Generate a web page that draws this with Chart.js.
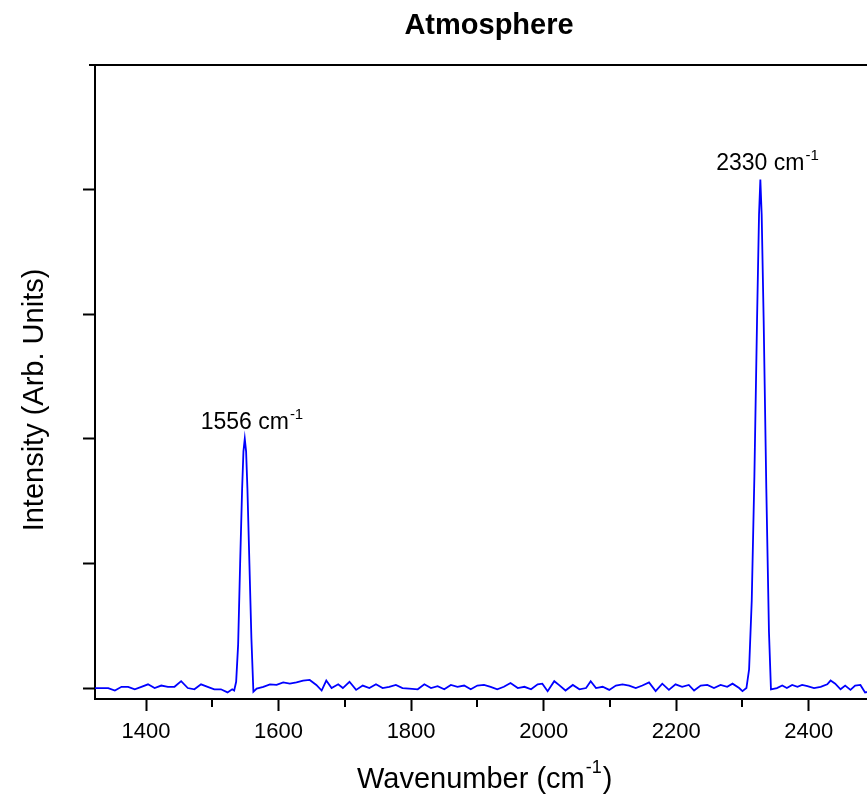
<!DOCTYPE html>
<html>
<head>
<meta charset="utf-8">
<title>Atmosphere</title>
<script src="https://cdn.jsdelivr.net/npm/chart.js@4.4.1/dist/chart.umd.min.js"></script>
<style>
    html, body { margin: 0; padding: 0; background: #fff; overflow: hidden; }
    #wrap { width: 880px; height: 797px; }
</style>
</head>
<body>
<div id="wrap"><canvas id="atmCanvas" width="880" height="797"></canvas></div>
<script>
// spectrum (wavenumber in cm-1, intensity in arb. units)
let wavenumber = [
    1323, 1333, 1343, 1353, 1363, 1373, 1383, 1393, 1403, 1413, 1423, 1433, 1443, 1453, 1463, 1473,
    1483, 1493, 1503, 1513, 1523, 1530, 1533, 1536, 1539, 1542, 1545, 1547, 1549, 1551, 1553, 1556,
    1559, 1562, 1567, 1577, 1587, 1597, 1607, 1617, 1627, 1637, 1647, 1657, 1665, 1672, 1680, 1690,
    1697, 1707, 1717, 1727, 1737, 1747, 1757, 1767, 1777, 1787, 1797, 1810, 1820, 1830, 1840, 1850,
    1860, 1870, 1880, 1890, 1900, 1910, 1920, 1930, 1940, 1950, 1961, 1971, 1981, 1991, 1998, 2006,
    2016, 2023, 2033, 2044, 2054, 2064, 2071, 2079, 2089, 2099, 2109, 2119, 2129, 2139, 2149, 2159,
    2169, 2179, 2189, 2199, 2209, 2219, 2227, 2237, 2247, 2257, 2267, 2277, 2285, 2295, 2300, 2306,
    2310, 2314, 2318, 2322, 2325, 2327, 2329, 2332, 2336, 2340, 2343, 2352, 2360, 2367, 2375, 2383,
    2390, 2398, 2408, 2418, 2428, 2433, 2440, 2448, 2455, 2463, 2470, 2478, 2485, 2490
];
let intensity = [
    0.00, 0.00, 0.00, -0.02, 0.01, 0.01, -0.01, 0.01, 0.03, 0.00, 0.02, 0.01, 0.01, 0.055, 0.00, -0.01,
    0.03, 0.01, -0.01, -0.01, -0.035, -0.01, -0.02, 0.05, 0.35, 1.0, 1.6, 1.9, 2.0, 1.9, 1.6, 1.0,
    0.4, -0.03, -0.005, 0.01, 0.03, 0.025, 0.045, 0.035, 0.045, 0.06, 0.065, 0.025, -0.02, 0.06, 0.00, 0.03,
    0.00, 0.05, -0.015, 0.02, 0.00, 0.03, 0.00, 0.01, 0.025, 0.00, -0.005, -0.01, 0.03, 0.00, 0.015, -0.01,
    0.025, 0.01, 0.02, -0.01, 0.02, 0.025, 0.01, -0.01, 0.01, 0.04, 0.00, 0.01, -0.01, 0.03, 0.035, -0.025,
    0.055, 0.025, -0.02, 0.025, -0.01, 0.00, 0.055, 0.00, 0.01, -0.015, 0.02, 0.03, 0.02, 0.00, 0.02, 0.045,
    -0.025, 0.035, -0.015, 0.03, 0.01, 0.025, -0.02, 0.02, 0.025, 0.00, 0.025, 0.01, 0.035, 0.00, -0.025, 0.00,
    0.15, 0.7, 1.7, 2.95, 3.8, 4.08, 3.8, 2.95, 1.6, 0.45, -0.01, 0.00, 0.02, 0.00, 0.025, 0.01,
    0.025, 0.015, 0.00, 0.01, 0.03, 0.06, 0.035, -0.01, 0.02, -0.015, 0.02, 0.025, -0.035, -0.03
];

// tick labels and peak labels
let xTicks = [1400, 1600, 1800, 2000, 2200, 2400];
let xMinorTicks = [1500, 1700, 1900, 2100, 2300];
let yTicks = [0, 1, 2, 3, 4];
let peakPos = [1549, 2327];
let peakHeight = [2.0, 4.08];
let peakLabels = ['1556', '2330'];

const FONT = '"Liberation Sans", Arial, sans-serif';

// draw "main" text followed by a raised smaller "sup" text, starting at x
function drawSupText(ctx, x, y, main, sup, after, size, supSize, rise) {
    ctx.font = size + 'px ' + FONT;
    ctx.fillText(main, x, y);
    let w = ctx.measureText(main).width;
    ctx.font = supSize + 'px ' + FONT;
    ctx.fillText(sup, x + w + 1, y - rise);
    let w2 = ctx.measureText(sup).width;
    if (after) {
        ctx.font = size + 'px ' + FONT;
        ctx.fillText(after, x + w + w2 + 2, y);
    }
}

const extrasPlugin = {
    id: 'extras',
    afterDraw(chart) {
        let ctx = chart.ctx;
        let area = chart.chartArea;
        let xs = chart.scales.x;
        let ys = chart.scales.y;
        ctx.save();
        ctx.fillStyle = '#000';
        ctx.strokeStyle = '#000';
        ctx.textBaseline = 'alphabetic';

        // top frame line (short tick at the corner)
        ctx.lineWidth = 2;
        ctx.beginPath();
        ctx.moveTo(area.left - 6, area.top);
        ctx.lineTo(chart.width, area.top);
        ctx.stroke();

        // minor ticks on x
        xMinorTicks.forEach(function(v) {
            let px = Math.round(xs.getPixelForValue(v));
            ctx.beginPath();
            ctx.moveTo(px, area.bottom);
            ctx.lineTo(px, area.bottom + 8);
            ctx.stroke();
        });

        // title
        ctx.font = 'bold 29px ' + FONT;
        ctx.textAlign = 'center';
        ctx.fillText('Atmosphere', 489, 34);

        // y title
        ctx.save();
        ctx.translate(43, 400);
        ctx.rotate(-Math.PI / 2);
        ctx.font = '29px ' + FONT;
        ctx.fillText('Intensity (Arb. Units)', 0, 0);
        ctx.restore();

        // x title
        ctx.textAlign = 'left';
        drawSupText(ctx, 357, 788, 'Wavenumber (cm', '-1', ')', 29, 18, 15);

        // peak labels
        for (let i = 0; i < peakPos.length; i++) {
            let px = xs.getPixelForValue(peakPos[i]);
            let py = ys.getPixelForValue(peakHeight[i]);
            ctx.font = '23px ' + FONT;
            let main = peakLabels[i] + ' cm';
            let w = ctx.measureText(main).width;
            drawSupText(ctx, px - w / 2, py - 10, main, '-1', null, 23, 15, 10);
        }
        ctx.restore();
    }
};

function createAtmChart() {
    let points = [];
    for (let i = 0; i < wavenumber.length; i++) {
        points.push({ x: wavenumber[i], y: intensity[i] });
    }
    console.log('points :', points.length);

    let canvas = document.getElementById('atmCanvas').getContext('2d');
    return new Chart(canvas, {
        type: 'line',
        data: {
            datasets: [{
                data: points,
                borderColor: '#0000ff',
                borderWidth: 1.8,
                pointRadius: 0,
                tension: 0,
                fill: false
            }]
        },
        options: {
            responsive: false,
            animation: false,
            devicePixelRatio: 1,
            layout: { padding: { top: 65, right: 5, left: 0, bottom: 0 } },
            plugins: { legend: { display: false }, title: { display: false }, tooltip: { enabled: false } },
            scales: {
                x: {
                    type: 'linear',
                    min: 1323,
                    max: 2500,
                    afterBuildTicks: function(scale) {
                        scale.ticks = xTicks.map(function(v) { return { value: v }; });
                    },
                    afterFit: function(scale) { scale.height = 98; },
                    ticks: {
                        color: '#000',
                        font: { family: FONT, size: 22 },
                        padding: 8,
                        maxRotation: 0,
                        callback: function(v) { return String(v); }
                    },
                    grid: { drawOnChartArea: false, tickLength: 12, tickWidth: 2, tickColor: '#000' },
                    border: { display: true, color: '#000', width: 2 }
                },
                y: {
                    type: 'linear',
                    min: -0.088,
                    max: 5,
                    afterBuildTicks: function(scale) {
                        scale.ticks = yTicks.map(function(v) { return { value: v }; });
                    },
                    afterFit: function(scale) { scale.width = 95; },
                    ticks: { display: false },
                    grid: { drawOnChartArea: false, tickLength: 12, tickWidth: 2, tickColor: '#000' },
                    border: { display: true, color: '#000', width: 2 }
                }
            }
        },
        plugins: [extrasPlugin]
    });
}

createAtmChart();
</script>
</body>
</html>
